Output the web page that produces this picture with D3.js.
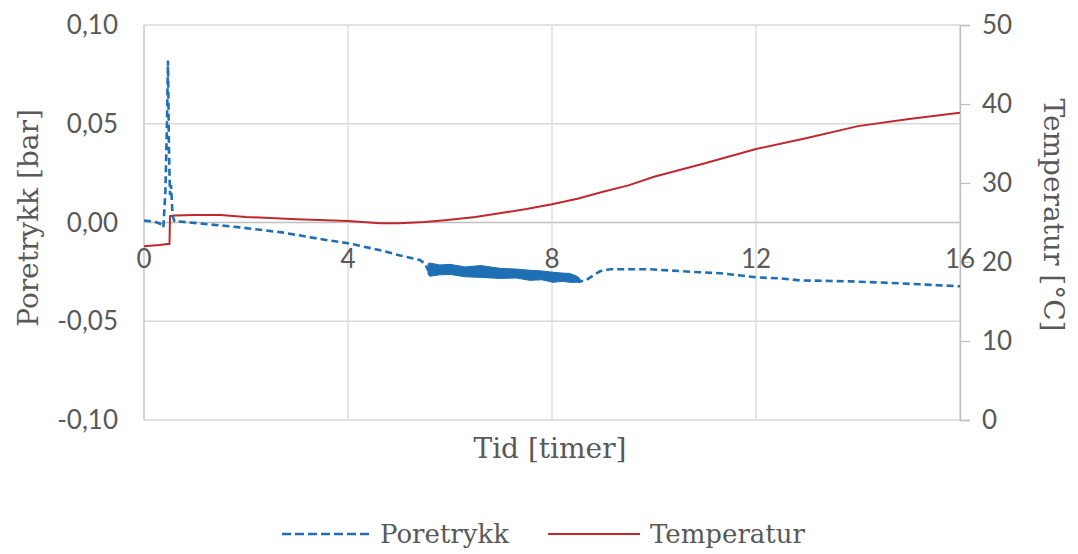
<!DOCTYPE html>
<html>
<head>
<meta charset="utf-8">
<script src="https://cdn.jsdelivr.net/npm/d3@7"></script>
<style>
  body { margin: 0; background: #fff; }
  .tick-label { font-family: Lato, "Open Sans", sans-serif; font-size: 26px; fill: #595959; }
  .title { font-family: "DejaVu Serif", serif; font-size: 28px; fill: #595959; }
  .legend { font-family: "DejaVu Serif", serif; font-size: 26px; fill: #595959; }
</style>
</head>
<body>
<svg id="chart" width="1078" height="554"></svg>
<script>
'use strict';

// time in hours
var xTicks = [0, 4, 8, 12, 16];
var pressureTicks = [-0.10, -0.05, 0.00, 0.05, 0.10];
var tempTicks = [0, 10, 20, 30, 40, 50];

// Poretrykk [bar]
var pressureTime = [0, 0.2, 0.35, 0.38, 0.42, 0.45, 0.47, 0.49, 0.51, 0.53, 0.56, 0.6, 0.7, 1.1, 1.9, 2.7, 3.6, 4.0, 4.63, 5.02, 5.41, 5.5, 5.57,
    6.0, 6.6, 7.0, 7.57, 8.02, 8.35, 8.5, 8.55, 8.65, 8.78, 8.94, 9.14, 9.92, 10.9, 11.3, 11.7, 12.02, 12.47, 12.86, 13.84, 14.82, 15.2, 16.0];
var pressureValue = [0.001, 0.0005, -0.001, -0.0025, 0.016, 0.05, 0.082, 0.036, 0.014, 0.019, 0.0035, 0.0005, 0.0005, -0.0005, -0.0025, -0.005, -0.009, -0.0105, -0.014, -0.0167, -0.019, -0.0207, -0.024,
    -0.024, -0.025, -0.0257, -0.0267, -0.0277, -0.028, -0.0288, -0.0298, -0.0295, -0.0273, -0.0247, -0.0237, -0.0237, -0.0252, -0.0257, -0.0268, -0.0278, -0.0283, -0.0293, -0.0298, -0.0308, -0.0313, -0.0323];

// noisy stretch of the pressure log: upper and lower envelope
var noiseTime = [5.57, 5.6, 5.8, 6.0, 6.3, 6.6, 6.98, 7.3, 7.57, 7.8, 8.02, 8.2, 8.35, 8.5, 8.55];
var noiseHigh = [-0.021, -0.0205, -0.0215, -0.0212, -0.0225, -0.0218, -0.0232, -0.0236, -0.0242, -0.0245, -0.0252, -0.0256, -0.0258, -0.0273, -0.0285];
var noiseLow = [-0.026, -0.0272, -0.0265, -0.0263, -0.0275, -0.0278, -0.0283, -0.0281, -0.0293, -0.029, -0.0303, -0.0298, -0.0303, -0.0303, -0.0305];

// Temperatur [°C]
var tempTime = [0, 0.3, 0.5, 0.51, 0.6, 1.0, 1.5, 2.0, 3.0, 4.0, 4.63, 5.0, 5.5, 5.9, 6.5, 7.0, 7.5, 8.0, 8.5, 9.0, 9.5, 10.0, 11.0, 12.0, 13.0, 14.0, 15.0, 16.0];
var tempValue = [22.0, 22.15, 22.3, 25.8, 25.9, 25.95, 25.95, 25.7, 25.4, 25.2, 24.9, 24.9, 25.05, 25.3, 25.7, 26.2, 26.7, 27.3, 28.0, 28.9, 29.7, 30.8, 32.5, 34.3, 35.7, 37.2, 38.1, 38.9];

var margin = {top: 25, right: 118, bottom: 134, left: 144},
    width = 1078 - margin.left - margin.right,
    height = 554 - margin.top - margin.bottom;

var BLUE = "#1f6fb5";
var RED = "#c0282e";

var svg = d3.select("#chart");
var g = svg.append("g")
    .attr("transform", "translate(" + margin.left + "," + margin.top + ")");

var x = d3.scaleLinear().domain([0, 16]).range([0, width]);
var yLeft = d3.scaleLinear().domain([-0.10, 0.10]).range([height, 0]);
var yRight = d3.scaleLinear().domain([0, 50]).range([height, 0]);

var fmt = function(d) { return d3.format(".2f")(d).replace(".", ",").replace("−", "-"); };

// grid
g.selectAll(".hgrid")
    .data(pressureTicks)
    .enter().append("line")
    .attr("x1", 0).attr("x2", width)
    .attr("y1", function(d) { return yLeft(d); })
    .attr("y2", function(d) { return yLeft(d); })
    .attr("stroke", function(d) { return d === 0 ? "#bfbfbf" : "#d9d9d9"; })
    .attr("stroke-width", 1.3);

g.selectAll(".vgrid")
    .data(xTicks)
    .enter().append("line")
    .attr("y1", 0).attr("y2", height)
    .attr("x1", function(d) { return x(d); })
    .attr("x2", function(d) { return x(d); })
    .attr("stroke", function(d) { return d === 0 ? "#bfbfbf" : "#d9d9d9"; })
    .attr("stroke-width", 1.3);

// right axis
var rightAxis = g.append("g")
    .attr("transform", "translate(" + width + ",0)")
    .call(d3.axisRight(yRight).tickValues(tempTicks).tickSize(10).tickPadding(12));
rightAxis.select(".domain").attr("stroke", "#bfbfbf").attr("stroke-width", 1.3);
rightAxis.selectAll(".tick line").attr("stroke", "#bfbfbf").attr("stroke-width", 1.3);
rightAxis.selectAll(".tick text").attr("class", "tick-label").attr("fill", null);

// left axis labels
g.selectAll(".left-label")
    .data(pressureTicks)
    .enter().append("text")
    .attr("class", "tick-label")
    .attr("text-anchor", "end")
    .attr("x", -26)
    .attr("y", function(d) { return yLeft(d); })
    .attr("dy", "0.35em")
    .text(fmt);

// x labels sit under the zero line
g.selectAll(".x-label")
    .data(xTicks)
    .enter().append("text")
    .attr("class", "tick-label")
    .attr("text-anchor", "middle")
    .attr("x", function(d) { return x(d); })
    .attr("y", yLeft(0) + 36)
    .attr("dy", "0.35em")
    .text(function(d) { return d; });

// data
var pressureData = pressureTime.map(function(t, i) { return {t: t, v: pressureValue[i]}; });
var noiseData = noiseTime.map(function(t, i) { return {t: t, hi: noiseHigh[i], lo: noiseLow[i]}; });
var tempData = tempTime.map(function(t, i) { return {t: t, v: tempValue[i]}; });

g.append("path")
    .datum(tempData)
    .attr("fill", "none")
    .attr("stroke", RED)
    .attr("stroke-width", 2)
    .attr("d", d3.line()
        .x(function(d) { return x(d.t); })
        .y(function(d) { return yRight(d.v); }));

g.append("path")
    .datum(pressureData)
    .attr("fill", "none")
    .attr("stroke", BLUE)
    .attr("stroke-width", 2.6)
    .attr("stroke-dasharray", "7,4")
    .attr("d", d3.line()
        .x(function(d) { return x(d.t); })
        .y(function(d) { return yLeft(d.v); }));

g.append("path")
    .datum(noiseData)
    .attr("fill", BLUE)
    .attr("stroke", BLUE)
    .attr("stroke-width", 1)
    .attr("d", d3.area()
        .x(function(d) { return x(d.t); })
        .y0(function(d) { return yLeft(d.lo); })
        .y1(function(d) { return yLeft(d.hi); }));

// titles
svg.append("text")
    .attr("class", "title")
    .attr("text-anchor", "middle")
    .attr("x", 550)
    .attr("y", 458)
    .text("Tid [timer]");

svg.append("text")
    .attr("class", "title")
    .attr("text-anchor", "middle")
    .attr("transform", "translate(38,218) rotate(-90)")
    .text("Poretrykk [bar]");

svg.append("text")
    .attr("class", "title")
    .attr("text-anchor", "middle")
    .attr("transform", "translate(1044,215) rotate(90)")
    .text("Temperatur [°C]");

// legend
var legend = svg.append("g");
legend.append("line")
    .attr("x1", 282).attr("x2", 373).attr("y1", 534).attr("y2", 534)
    .attr("stroke", BLUE).attr("stroke-width", 2.6).attr("stroke-dasharray", "9,4");
legend.append("text")
    .attr("class", "legend")
    .attr("x", 380).attr("y", 534).attr("dy", "0.35em")
    .text("Poretrykk");
legend.append("line")
    .attr("x1", 548).attr("x2", 640).attr("y1", 534).attr("y2", 534)
    .attr("stroke", RED).attr("stroke-width", 2);
legend.append("text")
    .attr("class", "legend")
    .attr("x", 650).attr("y", 534).attr("dy", "0.35em")
    .text("Temperatur");
</script>
</body>
</html>
